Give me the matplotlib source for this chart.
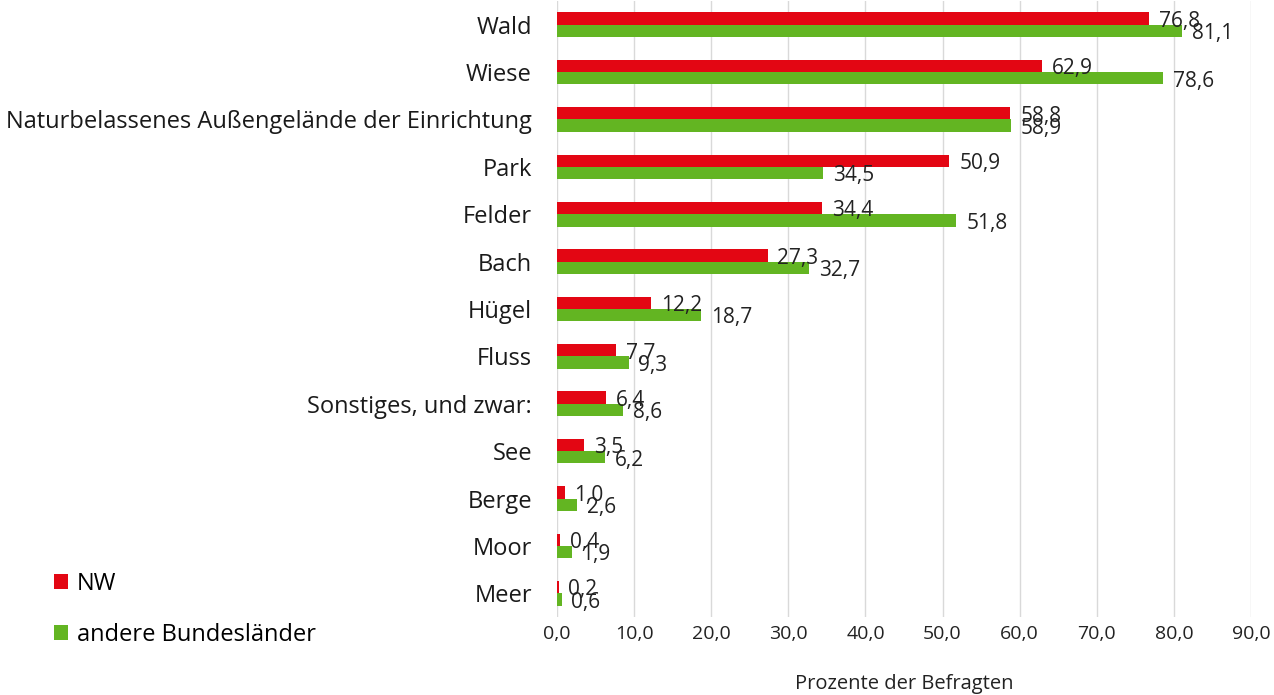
import numpy as np
import matplotlib
matplotlib.use("Agg")
import matplotlib.pyplot as plt
from matplotlib.ticker import FuncFormatter, MultipleLocator

categories = ["Wald", "Wiese", "Naturbelassenes Außengelände der Einrichtung", "Park",
              "Felder", "Bach", "Hügel", "Fluss", "Sonstiges, und zwar:", "See",
              "Berge", "Moor", "Meer"]
nw = [76.8, 62.9, 58.8, 50.9, 34.4, 27.3, 12.2, 7.7, 6.4, 3.5, 1.0, 0.4, 0.2]
andere = [81.1, 78.6, 58.9, 34.5, 51.8, 32.7, 18.7, 9.3, 8.6, 6.2, 2.6, 1.9, 0.6]
series_names = ["NW", "andere Bundesländer"]
xlabel = "Prozente der Befragten"

plt.rcParams['font.family'] = ['Open Sans', 'DejaVu Sans']

W, H = 1274, 695
fig = plt.figure(figsize=(W / 100, H / 100), dpi=100)
ax = fig.add_axes([557 / W, 1 - 617 / H, (1251 - 557) / W, (617 - 1) / H])

red = "#E30613"
green = "#63B522"
n = len(categories)
y = np.arange(n)
h = 0.26

b1 = ax.barh(y - h / 2, nw, height=h, color=red, label=series_names[0], zorder=3)
b2 = ax.barh(y + h / 2, andere, height=h, color=green, label=series_names[1], zorder=3)

fmt = lambda v: f"{v:.1f}".replace(".", ",")
t1 = ax.bar_label(b1, labels=[fmt(v) for v in nw], padding=7, fontsize=15, color="#222222")
t2 = ax.bar_label(b2, labels=[fmt(v) for v in andere], padding=7, fontsize=15, color="#222222")
for t in list(t1) + list(t2):
    t.xyann = (7, -2)

ax.set_xlim(0, 90)
ax.set_ylim(n - 0.5, -0.5)
ax.xaxis.set_major_locator(MultipleLocator(10))
ax.xaxis.set_major_formatter(FuncFormatter(lambda v, p: fmt(v)))
ax.set_yticks(y)
ax.set_yticklabels(categories, fontsize=17, color="#1a1a1a")
ax.tick_params(axis="y", length=0, pad=18)
ax.tick_params(axis="x", length=0, pad=6, labelsize=14, labelcolor="#222222")
ax.grid(axis="x", color="#D9D9D9", linewidth=1, zorder=0)
for s in ax.spines.values():
    s.set_visible(False)
ax.set_xlabel(xlabel, fontsize=14.5, color="#222222", labelpad=22)

fig.legend(handles=[b1, b2], loc="upper left", bbox_to_anchor=(33 / W, 1 - 551 / H),
           frameon=False, fontsize=17, handlelength=0.6, handleheight=0.6,
           handletextpad=0.35, labelspacing=1.12)

fig.savefig("out.png", dpi=100)
